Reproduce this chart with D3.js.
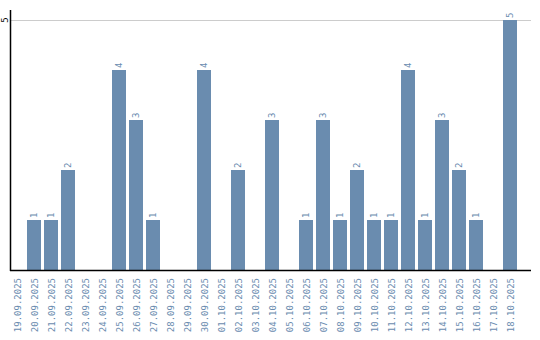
<!DOCTYPE html>
<html>
<head>
<meta charset="utf-8">
<script src="https://cdn.jsdelivr.net/npm/d3@7"></script>
<style>
  body { margin: 0; background: #fff; }
  text { font-family: "DejaVu Sans Mono", monospace; font-size: 9px; }
</style>
</head>
<body>
<div id="chart"></div>
<script>
const dates = [
    "19.09.2025", "20.09.2025", "21.09.2025", "22.09.2025", "23.09.2025",
    "24.09.2025", "25.09.2025", "26.09.2025", "27.09.2025", "28.09.2025",
    "29.09.2025", "30.09.2025", "01.10.2025", "02.10.2025", "03.10.2025",
    "04.10.2025", "05.10.2025", "06.10.2025", "07.10.2025", "08.10.2025",
    "09.10.2025", "10.10.2025", "11.10.2025", "12.10.2025", "13.10.2025",
    "14.10.2025", "15.10.2025", "16.10.2025", "17.10.2025", "18.10.2025"
];
const counts = [0, 1, 1, 2, 0, 0, 4, 3, 1, 0, 0, 4, 0, 2, 0, 3, 0, 1, 3, 1, 2, 1, 1, 4, 1, 3, 2, 1, 0, 5];
const yTicks = [5];

const width = 540, height = 340;
const barColor = "#6a8caf";

const svg = d3.select("#chart")
    .append("svg")
    .attr("width", width)
    .attr("height", height);

const x = d3.scaleBand()
    .domain(dates)
    .range([10, 520]);

const y = d3.scaleLinear()
    .domain([0, 5])
    .range([270, 20]);

// grid line
svg.selectAll("line.grid")
    .data(yTicks)
    .join("line")
    .attr("x1", 10)
    .attr("x2", 531)
    .attr("y1", d => y(d) + 0.5)
    .attr("y2", d => y(d) + 0.5)
    .attr("stroke", "#cccccc")
    .attr("stroke-width", 1);

// y tick labels
svg.selectAll("text.ytick")
    .data(yTicks)
    .join("text")
    .attr("transform", d => `translate(5, ${y(d)}) rotate(-90)`)
    .attr("text-anchor", "middle")
    .attr("dominant-baseline", "central")
    .attr("fill", "#000")
    .text(d => d);

const data = dates.map((d, i) => ({date: d, value: counts[i]}));

// bars
svg.selectAll("rect.bar")
    .data(data.filter(d => d.value > 0))
    .join("rect")
    .attr("x", d => x(d.date))
    .attr("y", d => y(d.value))
    .attr("width", x.bandwidth() - 3)
    .attr("height", d => y(0) - y(d.value))
    .attr("fill", barColor);

// value labels
const half = (x.bandwidth() - 3) / 2;
svg.selectAll("text.val")
    .data(data.filter(d => d.value > 0))
    .join("text")
    .attr("transform", d => `translate(${x(d.date) + half}, ${y(d.value) - 2}) rotate(-90)`)
    .attr("text-anchor", "start")
    .attr("dominant-baseline", "central")
    .attr("fill", barColor)
    .text(d => d.value);

// x labels
svg.selectAll("text.xlab")
    .data(dates)
    .join("text")
    .attr("transform", d => `translate(${x(d) + half + 1}, 278) rotate(-90)`)
    .attr("text-anchor", "end")
    .attr("dominant-baseline", "central")
    .attr("fill", barColor)
    .text(d => d);

// axes lines
svg.append("line")
    .attr("x1", 10.5).attr("x2", 10.5)
    .attr("y1", 10).attr("y2", 271)
    .attr("stroke", "#000").attr("stroke-width", 1.5);

svg.append("line")
    .attr("x1", 10).attr("x2", 531)
    .attr("y1", 270.5).attr("y2", 270.5)
    .attr("stroke", "#000").attr("stroke-width", 1.5);
</script>
</body>
</html>
